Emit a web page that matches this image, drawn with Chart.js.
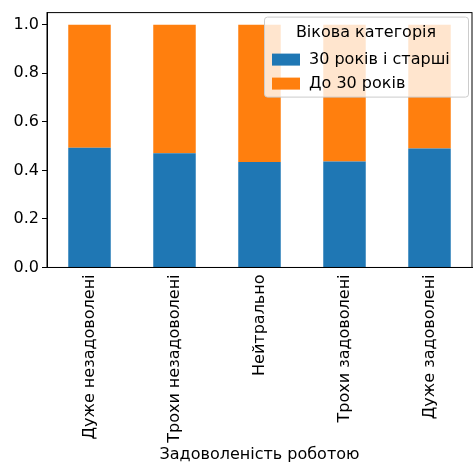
<!DOCTYPE html>
<html><head><meta charset="utf-8">
<script src="https://cdn.jsdelivr.net/npm/chart.js@4"></script>
<style>html,body{margin:0;background:#fff}#w{width:476px;height:466px}</style>
</head><body><div id="w"><canvas id="c"></canvas></div>
<script>
const categories = ["Дуже незадоволені","Трохи незадоволені","Нейтрально","Трохи задоволені","Дуже задоволені"];
const older = [0.493, 0.471, 0.434, 0.437, 0.490];
const younger = older.map(v => 1 - v);
const seriesNames = ["30 років і старші","До 30 років"];
const legendTitle = "Вікова категорія";
const F = "DejaVu Sans";
const legendPlugin = {
  id:'lg',
  afterDraw(ch){
    const c=ch.ctx, a=ch.chartArea;
    const x=a.right-208, y=a.top+4, w=204, h=80;
    c.save();
    c.fillStyle='rgba(255,255,255,0.8)'; c.strokeStyle='#ccc'; c.lineWidth=1;
    c.beginPath(); c.roundRect(x+0.5,y+0.5,w,h,3); c.fill(); c.stroke();
    c.fillStyle='#000'; c.font='16px '+F; c.textAlign='center'; c.textBaseline='middle';
    c.fillText(legendTitle,x+w/2,y+16);
    c.textAlign='left';
    const cols=['#1f77b4','#ff7f0e'];
    seriesNames.forEach((n,i)=>{const yy=y+43+i*24;
      c.fillStyle=cols[i]; c.fillRect(x+8,yy-6,28,12);
      c.fillStyle='#000'; c.fillText(n,x+45,yy);});
    c.restore();
  }
};
new Chart(document.getElementById('c'),{
  type:'bar',
  data:{labels:categories,datasets:[
    {label:seriesNames[0],data:older,backgroundColor:'#1f77b4',categoryPercentage:1,barPercentage:0.5},
    {label:seriesNames[1],data:younger,backgroundColor:'#ff7f0e',categoryPercentage:1,barPercentage:0.5}]},
  options:{responsive:true,maintainAspectRatio:false,animation:false,
    layout:{padding:{top:8,right:4,left:0,bottom:2}},
    plugins:{legend:{display:false},tooltip:{enabled:false}},
    scales:{
      x:{stacked:true,grid:{display:false,drawOnChartArea:false,drawTicks:true,tickLength:5,color:'#000'},border:{color:'#000'},
        ticks:{color:'#000',font:{family:F,size:16},maxRotation:90,minRotation:90,padding:2},
        title:{display:true,text:'Задоволеність роботою',color:'#000',font:{family:F,size:16},padding:{top:0,bottom:0}}},
      y:{stacked:true,min:0,max:1.05,border:{color:'#000'},grid:{drawOnChartArea:false,drawTicks:true,tickLength:5,color:'#000'},
        afterFit(s){s.width=47;},
        ticks:{stepSize:0.2,color:'#000',font:{family:F,size:16},padding:3,callback:v=>v.toFixed(1)},
        afterBuildTicks(s){s.ticks=[0,0.2,0.4,0.6,0.8,1.0].map(v=>({value:v}));}}
    }},
  plugins:[legendPlugin,{id:'frame',afterDraw(ch){const c=ch.ctx,a=ch.chartArea;c.save();c.strokeStyle='#000';c.lineWidth=1;c.strokeRect(a.left,a.top,a.right-a.left,a.bottom-a.top);c.restore();}}]
});
</script></body></html>
